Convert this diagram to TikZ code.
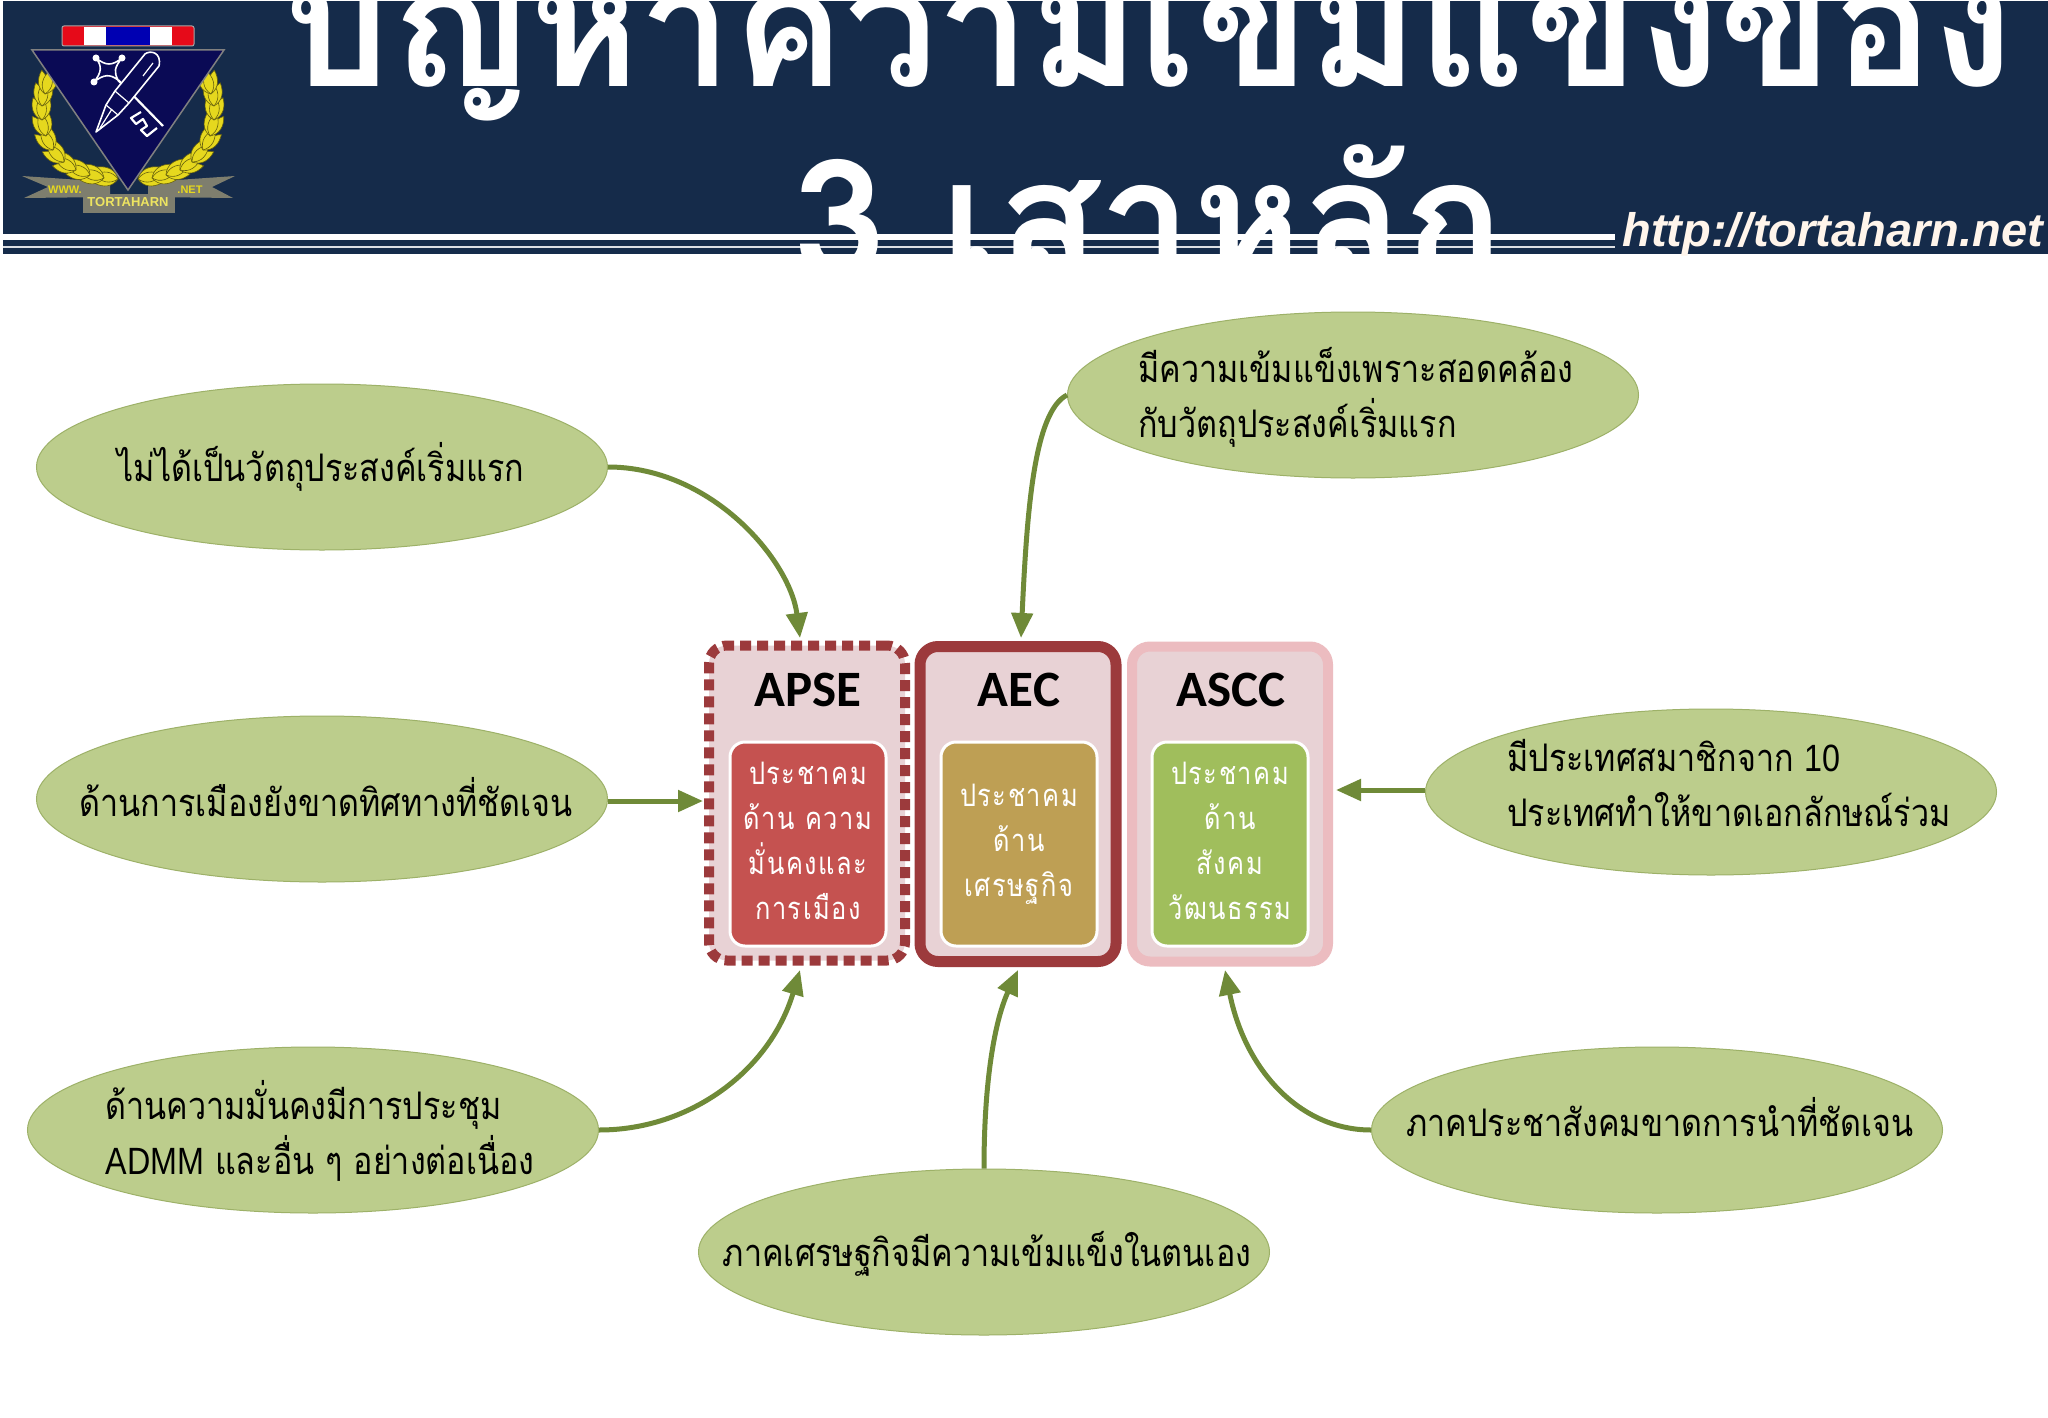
\documentclass[tikz,border=0pt]{standalone}
\usepackage{fontspec}
\usetikzlibrary{arrows.meta,shapes.geometric,calc}
\setmainfont{Liberation Sans}
\newfontfamily\thfont[Script=Thai]{Loma}
\newfontfamily\thbox[Script=Thai,LetterSpace=6]{Loma}
\newfontfamily\carl{Carlito}
\newfontfamily\lib{Liberation Sans}
\definecolor{hdr}{HTML}{152B4A}
\definecolor{ellf}{HTML}{BCCD8C}
\definecolor{elld}{HTML}{9DB168}
\definecolor{arr}{HTML}{6F8A38}
\definecolor{pale}{HTML}{E8D2D5}
\definecolor{brick}{HTML}{9C3A3C}
\definecolor{rose}{HTML}{ECBCC0}
\definecolor{gold}{HTML}{E6D81E}
\definecolor{bann}{HTML}{7E7E6E}
\definecolor{navy}{HTML}{0A0A55}
\tikzset{
  x=1pt,y=-1pt,
  bubble/.style={ellipse,draw=elld,line width=1pt,fill=ellf,minimum width=571pt,minimum height=166pt,inner sep=0pt},
  say/.style={font=\fontsize{38}{55}\thfont,align=left,inner sep=0pt,text=black,xscale=.85,transform shape},
  pillar/.style={rounded corners=18pt,fill=pale,minimum width=196pt,minimum height=315pt,inner sep=0pt},
  inbox/.style={rounded corners=15pt,draw=white,line width=3pt,minimum width=156pt,minimum height=204pt,inner sep=0pt},
  boxtxt/.style={text=white,align=center,inner sep=0pt,font=\fontsize{31}{45}\thbox,xscale=.82,transform shape},
  head/.style={font=\fontsize{51}{51}\carl\bfseries,inner sep=0pt,text=black},
  link/.style={draw=arr,line width=5pt,-{Triangle[length=25pt,width=21pt]}},
  leaf/.style={fill=gold,draw=black!55!gold,line width=.6pt},
}
\newcommand{\lens}[4][]{\draw[leaf,shift={(#2,#3)},rotate=#4] (0,0) .. controls (7,-7) and (16,-6) .. (24,0) .. controls (16,6) and (7,7) .. (0,0);}
\begin{document}
\begin{tikzpicture}
\useasboundingbox (0,0) rectangle (2048,1418);
\fill[white] (0,0) rectangle (2048,1418);
% header
\fill[hdr] (3,1) rectangle (2048,254);
\fill[white] (3,234) rectangle (1615,240);
\fill[white!85!hdr] (3,246) rectangle (1615,248);
% logo: ribbon
\draw[fill={rgb,255:red,230;green,10;blue,25},draw=gray!70!white,line width=1pt,rounded corners=2pt] (62,26) rectangle (194,46);
\fill[white] (84,27) rectangle (172,45);
\fill[blue!70!black] (106,27) rectangle (150,45);
% banner
\fill[bann] (22,176) -- (110,182) -- (110,197) -- (24,198) -- (48,187) -- cycle;
\fill[bann] (235,176) -- (148,182) -- (148,197) -- (233,198) -- (212,187) -- cycle;
% wreath
\foreach \px/\py/\ang in {118/179/170, 104/178/165, 90/175/158, 76/170/150, 64/162/135, 53/150/120, 46/136/105, 42/120/92, 42/106/85, 45/94/78}{
  \lens{\px}{\py}{\ang+20}
  \lens{\px}{\py}{\ang-20}
  \lens{\px}{\py}{\ang}
  \pgfmathsetmacro{\mx}{256-\px}
  \pgfmathsetmacro{\ma}{180-\ang}
  \lens{\mx}{\py}{\ma-20}
  \lens{\mx}{\py}{\ma+20}
  \lens{\mx}{\py}{\ma}
}
% triangle
\draw[fill=navy,draw=gray,line width=1.5pt] (32,50) -- (224,50) -- (128,190) -- cycle;
% key
\draw[white,line width=1.6pt,line join=round] (96,58) .. controls (106,66) and (112,66) .. (122,58) .. controls (114,68) and (114,72) .. (118,80) .. controls (110,74) and (104,74) .. (94,82) .. controls (102,72) and (102,66) .. (96,58);
\fill[white] (96,58) circle (3.5pt) (122,58) circle (3.5pt) (94,82) circle (3.5pt);
\draw[white,line width=2.2pt] (118,80) -- (163,126);
\draw[white,line width=2.2pt,line join=round] (141,112) -- (131,118) -- (136,124) -- (143,119) -- (147,126) -- (141,130) -- (147,136) -- (157,128);
% pen
\draw[white,line width=1.6pt,line join=round,fill=navy] (159,66) .. controls (162,52) and (150,50) .. (145,54) -- (115,91) -- (106,105) -- (96,132) -- (118,115) -- (129,103) -- cycle;
\draw[white,line width=1.2pt] (115,91) -- (129,103) (106,105) -- (118,115);
\draw[white,line width=1.2pt] (112,109) -- (100,128) (153,63) -- (143,76);
% banner labels
\fill[bann] (83,194) rectangle (175,213);
\node (lw) at (65,190) {\fontsize{11}{11}\lib\bfseries\color{gold}WWW.};
\node (ln) at (190,190) {\fontsize{11}{11}\lib\bfseries\color{gold}.NET};
\node (lt) at (128,202) {\fontsize{13}{13}\lib\bfseries\color{gold!70!white}TORTAHARN};
% title
\begin{scope}
\clip (0,0) rectangle (2048,254);
\node[anchor=base,inner sep=0pt,text=white,xscale=.975,transform shape] (title1) at (1149,87) {\fontsize{170}{170}\thfont\bfseries ปัญหาความเข้มแข็งของ};
\node[anchor=base,inner sep=0pt,text=white] (title2) at (1149,278) {\fontsize{166}{166}\thfont\bfseries 3 เสาหลัก};
\end{scope}
\node[anchor=base east,inner sep=0pt,text=white!92!orange] (url) at (2043,246) {\fontsize{47}{47}\lib\bfseries\itshape http://tortaharn.net};
% pillars
\node[pillar,draw=brick,line width=10pt,dash pattern=on 11pt off 6pt] (apse) at (807,803) {};
\node[pillar,draw=brick,line width=11pt] (aec) at (1018,804) {};
\node[pillar,draw=rose,line width=10pt] (ascc) at (1230,804) {};
\node[head] (apseh) at (808,690) {APSE};
\node[head] (aech) at (1019,690) {AEC};
\node[head] (asch) at (1231,690) {ASCC};
\node[inbox,fill={rgb,255:red,197;green,82;blue,80}] (apsei) at (808,844) {};
\node[inbox,fill={rgb,255:red,190;green,159;blue,84}] (aeci) at (1019,844) {};
\node[inbox,fill={rgb,255:red,160;green,190;blue,92}] (asci) at (1230,844) {};
\node[boxtxt] (apset) at (808,841) {ประชาคม\\ด้าน ความ\\มั่นคงและ\\การเมือง};
\node[boxtxt] (aect) at (1019,844) {ประชาคม\\ด้าน\\เศรษฐกิจ};
\node[boxtxt] (asct) at (1230,841) {ประชาคม\\ด้าน\\สังคม\\วัฒนธรรม};
% bubbles
\node[bubble] (A) at (322,467) {};
\node[bubble] (B) at (322,799) {};
\node[bubble] (C) at (313,1130) {};
\node[bubble] (D) at (984,1252) {};
\node[bubble] (E) at (1657,1130) {};
\node[bubble] (F) at (1711,792) {};
\node[bubble] (G) at (1353,395) {};
\node[say] (At) at (321,467) {ไม่ได้เป็นวัตถุประสงค์เริ่มแรก};
\node[say] (Bt) at (326,797) {ด้านการเมืองยังขาดทิศทางที่ชัดเจน};
\node[say] (Ct) at (320,1131) {ด้านความมั่นคงมีการประชุม\\{\lib ADMM} และอื่น ๆ อย่างต่อเนื่อง};
\node[say] (Dt) at (987,1254) {ภาคเศรษฐกิจมีความเข้มแข็งในตนเอง};
\node[say] (Et) at (1660,1117) {ภาคประชาสังคมขาดการนำที่ชัดเจน};
\node[say] (Ft) at (1729,783) {มีประเทศสมาชิกจาก {\lib 10}\\ประเทศทำให้ขาดเอกลักษณ์ร่วม};
\node[say] (Gt) at (1356,397) {มีความเข้มแข็งเพราะสอดคล้อง\\กับวัตถุประสงค์เริ่มแรก};
% arrow ends
\coordinate (apseT) at (800,638);
\coordinate (aecT) at (1021,638);
\coordinate (apseL) at (703,801);
\coordinate (asccR) at (1336,790);
\coordinate (apseB) at (800,970);
\coordinate (aecB) at (1018,970);
\coordinate (asccB) at (1225,970);
\draw[link] (A.east) .. controls ($(A.east)+(103,0)$) and ($(apseT)+(-10,-78)$) .. (apseT);
\draw[link] (G.west) .. controls ($(G.west)+(-33,17)$) and ($(aecT)+(6,-128)$) .. (aecT);
\draw[link] (B.east|-apseL) -- (apseL);
\draw[link] (F.west|-asccR) -- (asccR);
\draw[link] (C.east) .. controls ($(C.east)+(92,0)$) and ($(apseB)+(-30,100)$) .. (apseB);
\draw[link] (D.north) .. controls ($(D.north)+(0,-89)$) and ($(aecB)+(-23,50)$) .. (aecB);
\draw[link] (E.west) .. controls ($(E.west)+(-71,0)$) and ($(asccB)+(20,100)$) .. (asccB);
\end{tikzpicture}
\end{document}
